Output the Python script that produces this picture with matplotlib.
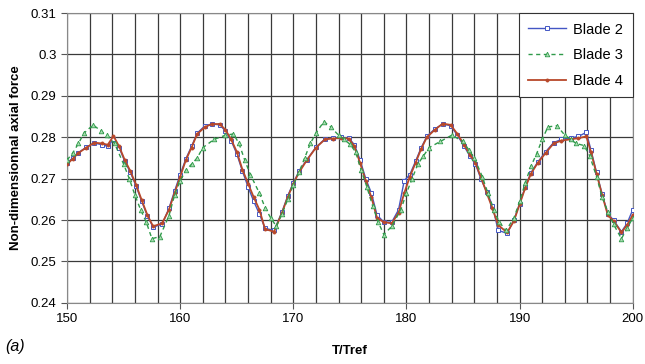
import matplotlib.pyplot as plt
from matplotlib.ticker import MultipleLocator

plt.rcParams['font.family'] = ['Liberation Sans', 'DejaVu Sans']

# Blade 2 and Blade 4 share sample times
t_24 = [150, 150.5, 151, 151.7, 152.4, 153.1, 153.6, 154.1, 154.6, 155.1, 155.6, 156.1, 156.6,
        157.1, 157.6, 158.4, 159, 159.5, 160, 160.5, 161, 161.5, 162.2, 162.8, 163.5, 164,
        164.5, 165, 165.5, 166, 166.5, 167, 167.5, 168.3, 169, 169.5, 170, 170.5, 171.2, 172,
        172.8, 173.5, 174.2, 174.9, 175.4, 175.9, 176.4, 176.9, 177.4, 178, 178.7, 179.3,
        179.8, 180.3, 180.8, 181.3, 181.8, 182.5, 183.2, 183.9, 184.5, 185.1, 185.6, 186.1,
        186.6, 187.1, 187.6, 188.1, 188.9, 189.5, 190, 190.5, 191, 191.6, 192.3, 193, 193.7,
        194.5, 195.2, 195.9, 196.3, 196.8, 197.3, 197.8, 198.3, 199, 199.5, 200]

blade4 = [0.2735, 0.2748, 0.2762, 0.2775, 0.2787, 0.2785, 0.2782, 0.2803, 0.2778, 0.2745, 0.2718,
          0.2685, 0.2648, 0.2612, 0.2585, 0.2592, 0.2625, 0.2665, 0.2705, 0.2745, 0.2775, 0.2808,
          0.2825, 0.2832, 0.2832, 0.2818, 0.2795, 0.2765, 0.2722, 0.2688, 0.2655, 0.2625, 0.2578,
          0.2572, 0.2618, 0.2655, 0.2688, 0.2715, 0.2745, 0.2775, 0.2795, 0.2797, 0.2798, 0.2797,
          0.2778, 0.2738, 0.2695, 0.2655, 0.2605, 0.2595, 0.2592, 0.2618, 0.2665, 0.2705, 0.2738,
          0.2772, 0.2800, 0.2818, 0.2833, 0.2830, 0.2808, 0.2782, 0.2758, 0.2738, 0.2702, 0.2665,
          0.2628, 0.2588, 0.2570, 0.2598, 0.2638, 0.2678, 0.2712, 0.2738, 0.2762, 0.2785, 0.2792,
          0.2795, 0.2798, 0.2802, 0.2765, 0.2712, 0.2660, 0.2612, 0.2598, 0.2570, 0.2588, 0.2612]

blade2 = [0.2738, 0.2750, 0.2763, 0.2776, 0.2786, 0.2782, 0.2778, 0.2795, 0.2775, 0.2742, 0.2715,
          0.2682, 0.2645, 0.2610, 0.2583, 0.2590, 0.2628, 0.2670, 0.2710, 0.2748, 0.2778, 0.2810,
          0.2828, 0.2832, 0.2830, 0.2815, 0.2792, 0.2760, 0.2718, 0.2680, 0.2645, 0.2615, 0.2580,
          0.2575, 0.2620, 0.2658, 0.2690, 0.2718, 0.2746, 0.2776, 0.2796, 0.2798, 0.2800, 0.2798,
          0.2782, 0.2745, 0.2700, 0.2665, 0.2612, 0.2595, 0.2595, 0.2625, 0.2695, 0.2710, 0.2742,
          0.2775, 0.2802, 0.2820, 0.2832, 0.2828, 0.2805, 0.2778, 0.2755, 0.2735, 0.2698, 0.2668,
          0.2635, 0.2575, 0.2568, 0.2600, 0.2640, 0.2680, 0.2714, 0.2740, 0.2765, 0.2787, 0.2795,
          0.2798, 0.2802, 0.2812, 0.2770, 0.2715, 0.2662, 0.2615, 0.2600, 0.2572, 0.2592, 0.2625]

t_3 = [150, 150.5, 151, 151.5, 152.3, 153, 153.5, 154.2, 155, 155.5, 156, 156.5, 157, 157.5,
       158.2, 159, 159.5, 160, 160.5, 161, 161.5, 162, 163, 164, 164.7, 165.2, 165.7, 166.2,
       167, 167.5, 168, 168.5, 169, 169.5, 170, 170.5, 171, 171.5, 172, 172.7, 173.3, 174,
       174.5, 175, 175.5, 176, 176.5, 177, 177.5, 178, 178.7, 179.5, 180, 180.5, 181, 181.5,
       182, 183, 184, 185, 185.5, 186, 186.7, 187.2, 187.7, 188.2, 188.8, 189.5, 190, 190.5,
       191, 191.5, 192, 192.5, 193.3, 194, 194.5, 195, 195.7, 196.2, 196.8, 197.3, 197.8,
       198.3, 199, 199.5, 200]

blade3 = [0.2745, 0.2762, 0.2785, 0.2810, 0.2830, 0.2815, 0.2805, 0.2785, 0.2735, 0.2700, 0.2660,
          0.2625, 0.2595, 0.2555, 0.2560, 0.2610, 0.2660, 0.2695, 0.2720, 0.2735, 0.2750, 0.2775,
          0.2795, 0.2805, 0.2808, 0.2785, 0.2745, 0.2710, 0.2665, 0.2630, 0.2605, 0.2585, 0.2615,
          0.2650, 0.2685, 0.2715, 0.2750, 0.2785, 0.2810, 0.2838, 0.2825, 0.2805, 0.2795, 0.2783,
          0.2765, 0.2720, 0.2680, 0.2635, 0.2595, 0.2565, 0.2585, 0.2625, 0.2665, 0.2700, 0.2735,
          0.2755, 0.2775, 0.2790, 0.2805, 0.2790, 0.2770, 0.2750, 0.2705, 0.2665, 0.2625, 0.2595,
          0.2575, 0.2605, 0.2645, 0.2690, 0.2730, 0.2760, 0.2795, 0.2825, 0.2828, 0.2805, 0.2795,
          0.2785, 0.2780, 0.2755, 0.2705, 0.2655, 0.2620, 0.2590, 0.2555, 0.2580, 0.2605]

fig = plt.figure(figsize=(6.45, 3.64), dpi=100)
ax = fig.add_axes([0.104, 0.168, 0.877, 0.796])

ax.plot(t_24, blade2, color='#4356c4', lw=1.0, marker='s', ms=2.6, mfc='white', mew=0.7,
        label='Blade 2', zorder=3)
ax.plot(t_3, blade3, color='#2f9a4a', lw=1.0, ls=(0, (3, 2.5)), marker='^', ms=3.3,
        mfc='#a8dcb0', mew=0.6, label='Blade 3', zorder=4)
ax.plot(t_24, blade4, color='#b8482a', lw=1.3, marker='o', ms=2.3, mew=0.5,
        label='Blade 4', zorder=3)

ax.set_xlim(150, 200)
ax.set_ylim(0.24, 0.31)
ax.xaxis.set_major_locator(MultipleLocator(10))
ax.xaxis.set_minor_locator(MultipleLocator(2))
ax.yaxis.set_major_locator(MultipleLocator(0.01))
ax.yaxis.set_major_formatter(plt.FuncFormatter(lambda v, p: f"{v:.2f}".rstrip('0')))

ax.grid(True, which='major', axis='y', color='#3a3a3a', lw=0.9)
ax.grid(True, which='both', axis='x', color='#3a3a3a', lw=0.9)
ax.tick_params(axis='both', which='both', labelsize=9.5, color='#555555', length=4, width=0.8)
ax.tick_params(axis='x', which='minor', length=0)
for s in ax.spines.values():
    s.set_color('#888888')
    s.set_linewidth(0.8)

ax.set_xlabel('T/Tref', fontsize=9.5, fontweight='bold', labelpad=14)
ax.set_ylabel('Non-dimensionnal axial force', fontsize=9.5, fontweight='bold', labelpad=6)
fig.text(0.008, 0.035, '(a)', fontsize=11.5, style='italic')

leg = ax.legend(loc='upper right', fontsize=10.5, frameon=True, fancybox=False, edgecolor='#333333',
                borderpad=0.65, labelspacing=0.8, handlelength=2.6, handletextpad=0.5,
                borderaxespad=0.0, framealpha=1)
leg.get_frame().set_linewidth(0.8)

fig.savefig('out.png', dpi=100)
